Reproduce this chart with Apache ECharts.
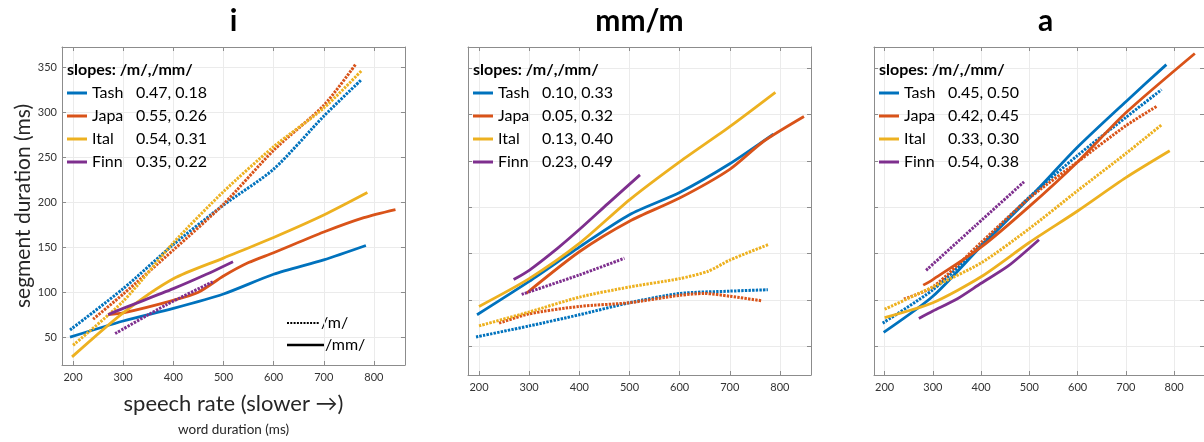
<!DOCTYPE html>
<html>
<head>
<meta charset="utf-8">
<script src="https://cdn.jsdelivr.net/npm/echarts@6/dist/echarts.min.js"></script>
<style>
  html, body { margin: 0; background: #fff; }
  #chart { width: 1204px; height: 442px; }
</style>
</head>
<body>
<div id="chart"></div>
<script>
// panels and languages
const panels = ['i', 'mm/m', 'a'];
const langs = ['Tash', 'Japa', 'Ital', 'Finn'];
const colors = ['#0072BD', '#D95319', '#EDB120', '#7E2F8E'];

// slopes shown in the legends: [/m/, /mm/]
const iSlopes = [[0.47, 0.18], [0.55, 0.26], [0.54, 0.31], [0.35, 0.22]];
const mmSlopes = [[0.10, 0.33], [0.05, 0.32], [0.13, 0.40], [0.23, 0.49]];
const aSlopes = [[0.45, 0.50], [0.42, 0.45], [0.33, 0.30], [0.54, 0.38]];

// panel "i" -- [word duration, segment duration]
const iTashMM = [[194, 50], [300, 68], [400, 82], [500, 98], [600, 120], [700, 136], [784, 152]];
const iJapaMM = [[270, 75], [300, 77], [400, 91], [450, 100], [500, 118], [550, 133], [600, 144], [700, 167], [780, 183], [843, 192]];
const iItalMM = [[198, 28], [300, 77], [400, 115], [500, 138], [600, 161], [700, 186], [787, 211]];
const iFinnMM = [[270, 75], [300, 82], [400, 104], [466, 120], [519, 134]];
const iTashM = [[194, 58], [300, 104], [400, 153], [500, 197], [600, 237], [700, 296], [774, 336]];
const iJapaM = [[240, 70], [300, 98], [400, 147], [500, 198], [600, 258], [700, 308], [764, 354]];
const iItalM = [[200, 41], [300, 90], [400, 155], [500, 212], [600, 262], [700, 305], [776, 347]];
const iFinnM = [[284, 54], [386, 86], [480, 112]];

// panel "mm/m"
const mmTashMM = [[196, 84], [300, 120], [400, 157], [500, 192], [600, 216], [700, 247], [787, 279]];
const mmJapaMM = [[294, 107], [400, 152], [500, 185], [600, 210], [700, 241], [767, 271], [848, 298]];
const mmItalMM = [[200, 93], [300, 123], [400, 161], [500, 208], [600, 249], [700, 287], [791, 324]];
const mmFinnMM = [[269, 122], [300, 132], [357, 156], [400, 176], [457, 204], [521, 235]];
const mmTashM = [[194, 60], [300, 72], [400, 84], [500, 97], [600, 107], [700, 109.5], [776, 111]];
const mmJapaM = [[240, 75], [300, 85], [400, 93], [500, 97], [600, 105], [650, 107], [700, 104], [765, 99]];
const mmItalM = [[200, 72], [300, 87], [400, 103], [500, 114], [600, 123], [657, 131], [700, 143], [778, 160]];
const mmFinnM = [[285, 106], [400, 127], [490, 145]];

// panel "a"
const aTashMM = [[198, 65], [300, 104], [400, 158], [500, 210], [600, 265], [700, 314], [784, 354]];
const aJapaMM = [[280, 116], [300, 122], [400, 157], [500, 201], [600, 249], [700, 302], [843, 366]];
const aItalMM = [[200, 81], [300, 97], [400, 125], [500, 162], [600, 196], [700, 232], [791, 261]];
const aFinnMM = [[271, 80], [300, 88], [350, 101], [400, 118], [457, 137], [520, 165]];
const aTashM = [[196, 75], [300, 111], [400, 159], [500, 211], [600, 256], [700, 297], [774, 327]];
const aJapaM = [[240, 101], [300, 114], [400, 162], [500, 210], [600, 249], [700, 288], [764, 309]];
const aItalM = [[200, 90], [300, 114], [400, 140], [500, 177], [600, 218], [700, 258], [774, 289]];
const aFinnM = [[286, 132], [388, 180], [490, 228]];

const slopes = [iSlopes, mmSlopes, aSlopes];
const solid = [
  [iTashMM, iJapaMM, iItalMM, iFinnMM],
  [mmTashMM, mmJapaMM, mmItalMM, mmFinnMM],
  [aTashMM, aJapaMM, aItalMM, aFinnMM]
];
const dotted = [
  [iTashM, iJapaM, iItalM, iFinnM],
  [mmTashM, mmJapaM, mmItalM, mmFinnM],
  [aTashM, aJapaM, aItalM, aFinnM]
];

const gridLefts = [62, 468, 874];
const gridTop = 47, gridW = 343, gridH = 328;
const font = 'Lato';
const boxColor = '#8c8c8c';

var chart = echarts.init(document.getElementById('chart'));

let titles = [];
let legends = [];
let grids = [];
let xAxes = [];
let yAxes = [];
let series = [];

panels.forEach(function (p, k) {
  let left = gridLefts[k];
  grids.push({left: left, top: gridTop, width: gridW, height: gridH});

  // panel title
  titles.push({
    text: p, left: left + gridW / 2, top: 6, textAlign: 'center', padding: 0,
    textStyle: {fontFamily: font, fontSize: 30, fontWeight: 'bold', color: '#000'}
  });
  // legend heading
  titles.push({
    text: 'slopes: /m/,/mm/', left: left + 5, top: 62, padding: 0,
    textStyle: {fontFamily: font, fontSize: 16, fontWeight: 'bold', color: '#000'}
  });

  legends.push({
    orient: 'vertical', left: left + 5, top: 85, padding: 0, itemGap: 7,
    itemWidth: 20, itemHeight: 3, icon: 'rect', selectedMode: false,
    data: langs,
    formatter: function (name) {
      let s = slopes[k][langs.indexOf(name)];
      return '{n|' + name + '}{v|' + s[0].toFixed(2) + ', ' + s[1].toFixed(2) + '}';
    },
    textStyle: {
      fontFamily: font, fontSize: 16, color: '#000',
      rich: {
        n: {fontFamily: font, fontSize: 16, color: '#000', width: 44},
        v: {fontFamily: font, fontSize: 16, color: '#000'}
      }
    }
  });

  // bottom + top x axes
  xAxes.push({
    type: 'value', gridIndex: k, min: 178, max: 862, splitNumber: 7,
    axisLine: {show: true, lineStyle: {color: boxColor}},
    axisTick: {inside: true, length: 4, lineStyle: {color: boxColor}},
    axisLabel: {showMinLabel: false, showMaxLabel: false, color: '#333', fontFamily: font, fontSize: 11, margin: 7},
    splitLine: {show: true, lineStyle: {color: '#ebebeb'}},
    name: k === 0 ? '{a|speech rate (slower \u2192)}\n{b|word duration (ms)}' : '',
    nameLocation: 'middle', nameGap: 24,
    nameTextStyle: {
      rich: {
        a: {fontFamily: font, fontSize: 22, color: '#262626', lineHeight: 30},
        b: {fontFamily: font, fontSize: 13.5, color: '#262626', lineHeight: 22}
      }
    }
  });
  xAxes.push({
    type: 'value', gridIndex: k, min: 178, max: 862, splitNumber: 7, position: 'top',
    axisLine: {show: true, lineStyle: {color: boxColor}},
    axisTick: {inside: true, length: 4, lineStyle: {color: boxColor}},
    axisLabel: {show: false}, splitLine: {show: false}
  });

  // left + right y axes
  yAxes.push({
    type: 'value', gridIndex: k, min: 19, max: 373, splitNumber: 7,
    axisLine: {show: true, lineStyle: {color: boxColor}},
    axisTick: {inside: true, length: 4, lineStyle: {color: boxColor}},
    axisLabel: {show: k === 0, showMinLabel: false, showMaxLabel: false, color: '#333', fontFamily: font, fontSize: 11, margin: 5},
    splitLine: {show: true, lineStyle: {color: '#ebebeb'}},
    name: k === 0 ? 'segment duration (ms)' : '',
    nameLocation: 'middle', nameGap: 26,
    nameTextStyle: {fontFamily: font, fontSize: 21, color: '#262626'}
  });
  yAxes.push({
    type: 'value', gridIndex: k, min: 19, max: 373, splitNumber: 7, position: 'right',
    axisLine: {show: true, lineStyle: {color: boxColor}},
    axisTick: {inside: true, length: 4, lineStyle: {color: boxColor}},
    axisLabel: {show: false}, splitLine: {show: false}
  });

  langs.forEach(function (lang, j) {
    series.push({
      name: lang + ' /m/', type: 'line', xAxisIndex: 2 * k, yAxisIndex: 2 * k,
      data: dotted[k][j], smooth: 0.25, showSymbol: false, color: colors[j],
      lineStyle: {width: 3, type: [2.4, 1.2], color: colors[j]}
    });
    series.push({
      name: lang, type: 'line', xAxisIndex: 2 * k, yAxisIndex: 2 * k,
      data: solid[k][j], smooth: 0.25, showSymbol: false, color: colors[j],
      lineStyle: {width: 2.8, color: colors[j]}
    });
  });
});

let option = {
  animation: false,
  textStyle: {fontFamily: font},
  title: titles,
  legend: legends,
  grid: grids,
  xAxis: xAxes,
  yAxis: yAxes,
  series: series,
  // line-style key inside the first panel
  graphic: [
    {type: 'line', shape: {x1: 287, y1: 323, x2: 320, y2: 323}, style: {stroke: '#000', lineWidth: 2.2, lineDash: [2, 1.3]}},
    {type: 'text', x: 321, y: 323, style: {text: '/m/', fontFamily: font, fontSize: 16, fill: '#000', verticalAlign: 'middle'}},
    {type: 'line', shape: {x1: 287, y1: 345, x2: 324, y2: 345}, style: {stroke: '#000', lineWidth: 2.5}},
    {type: 'text', x: 325, y: 345, style: {text: '/mm/', fontFamily: font, fontSize: 16, fill: '#000', verticalAlign: 'middle'}}
  ]
};

chart.setOption(option);
</script>
</body>
</html>
